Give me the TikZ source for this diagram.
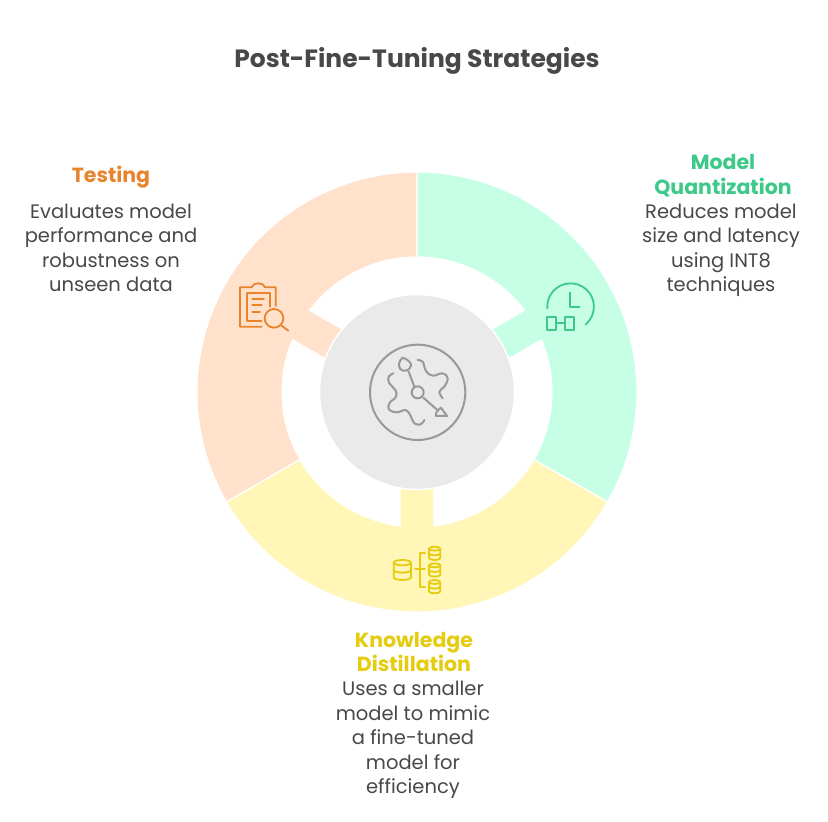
\documentclass[tikz,border=0pt]{standalone}
\usepackage{fontspec}
\setmainfont{Poppins}
\definecolor{txt}{HTML}{484848}
\definecolor{peach}{HTML}{FFE1CC}
\definecolor{mint}{HTML}{C6FFE6}
\definecolor{butter}{HTML}{FFF6B8}
\definecolor{disc}{HTML}{EAEAEA}
\definecolor{ico}{HTML}{999999}
\definecolor{orangeI}{HTML}{E8842C}
\definecolor{greenI}{HTML}{3CC98A}
\definecolor{yellowI}{HTML}{E6CC10}
\newcommand{\sectorshape}{
  (60:220) arc[start angle=60,end angle=-60,radius=220]
  -- (-60:135) arc[start angle=-60,end angle=-7.23,radius=135]
  -- (90,-17) -- (90,17) -- (7.23:135)
  arc[start angle=7.23,end angle=60,radius=135] -- cycle}
\newcommand{\smallcyl}[2]{% x, top y
  \draw (#1,#2) ellipse[x radius=17,y radius=6];
  \draw (#1-17,#2) -- (#1-17,#2+28) arc[start angle=180,end angle=0,x radius=17,y radius=6] -- (#1+17,#2);
  \draw (#1-17,#2+14) arc[start angle=180,end angle=0,x radius=17,y radius=6];
}
\tikzset{
  x=1pt,y=1pt,
  sector/.style={draw=white,line width=1.2pt},
  zoomA/.style={shift={(-417+220,392-270)},yscale=-1,scale=1/3},
  zoomB/.style={shift={(-416+360,392-335)},yscale=-1,scale=1/3},
  icon/.style={line width=1.8pt,line cap=round,line join=round},
  head/.style={font=\fontsize{20.5}{24.5}\selectfont\bfseries,align=center,inner sep=0pt},
  body/.style={font=\fontsize{19.5}{24.5}\selectfont,text=txt,align=center,inner sep=0pt},
}
\begin{document}
\begin{tikzpicture}
\useasboundingbox (-417,-430) rectangle (411,392);
\fill[white] (-417,-430) rectangle (411,392);
% ring sectors
\begin{scope}[rotate=30]  \path[sector,fill=mint] \sectorshape; \end{scope}
\begin{scope}[rotate=150] \path[sector,fill=peach] \sectorshape; \end{scope}
\begin{scope}[rotate=270] \path[sector,fill=butter] \sectorshape; \end{scope}
\fill[disc,draw=white,line width=1.5pt] (0,0) circle[radius=97.5];
% centre icon
\begin{scope}[zoomB,icon,draw=ico,line width=2pt]
  \draw (170,172) circle[radius=143];
  \draw (170,172) circle[radius=18];
  \draw (143,110) -- (160,155);
  \draw (187,188) -- (228,224);
  \draw (125,68) .. controls (140,72) and (152,85) .. (150,92) .. controls (148,108) and (125,112) .. (118,102) .. controls (110,92) and (115,75) .. (125,68) -- cycle;
  \draw (240,218) -- (258,243) -- (225,243) .. controls (222,235) and (230,225) .. (240,218) -- cycle;
  \draw plot[smooth,tension=0.7] coordinates {(170,75) (185,80) (195,108) (215,122) (245,115) (260,130) (250,155) (235,170) (245,190)};
  \draw plot[smooth,tension=0.7] coordinates {(97,115) (83,125) (85,145) (103,165) (105,185) (85,205) (85,225) (110,232) (135,225) (150,245) (160,265) (180,268) (190,255)};
\end{scope}
% clipboard icon
\begin{scope}[zoomA,icon,draw=orangeI]
  \draw (125,170) -- (60,170) -- (60,52) -- (95,52) .. controls (100,42) and (108,40) .. (115,40) .. controls (122,40) and (130,42) .. (135,52) -- (167,52) -- (167,108);
  \draw (125,152) -- (80,152) -- (80,70) -- (150,70) -- (150,110);
  \draw (97,88) -- (132,88);
  \draw (97,106) -- (125,106);
  \draw (97,125) -- (120,125);
  \draw (162,145) circle[radius=28];
  \draw (182,165) -- (205,182);
\end{scope}
% clock icon
\begin{scope}[zoomA,icon,draw=greenI]
  \draw (982,115) arc[start angle=-184,end angle=50,radius=70];
  \draw (1050,68) -- (1050,110) -- (1078,110);
  \draw (982,142) rectangle (1008,180);
  \draw (1035,142) rectangle (1062,180);
  \draw (1008,160) -- (1035,160);
\end{scope}
% database icon
\begin{scope}[zoomA,icon,draw=yellowI]
  \draw (547,878) ellipse[x radius=26,y radius=8];
  \draw (521,878) -- (521,922) arc[start angle=180,end angle=0,x radius=26,y radius=8] -- (573,878);
  \draw (521,900) arc[start angle=180,end angle=0,x radius=26,y radius=8];
  \draw (615,848) -- (600,848) -- (600,950) -- (615,950);
  \draw (585,898) -- (615,898);
  \smallcyl{644}{836}
  \smallcyl{644}{886}
  \smallcyl{644}{936}
\end{scope}
% text
\node[font=\fontsize{25}{30}\selectfont\bfseries,text=txt,inner sep=0pt] (title) at (0,331) {Post-Fine-Tuning Strategies};
\node[head,text=orangeI] (thead) at (-306,215) {Testing};
\node[body] (tbody) at (-306,144) {Evaluates model\\performance and\\robustness on\\unseen data};
\node[head,text=greenI] (qhead) at (306,216.5) {Model\\Quantization};
\node[body] (qbody) at (304,141.5) {Reduces model\\size and latency\\using INT8\\techniques};
\node[head,text=yellowI] (khead) at (-3,-260) {Knowledge\\Distillation};
\node[body] (kbody) at (-4,-348) {Uses a smaller\\model to mimic\\a fine-tuned\\model for\\efficiency};
\end{tikzpicture}
\end{document}
